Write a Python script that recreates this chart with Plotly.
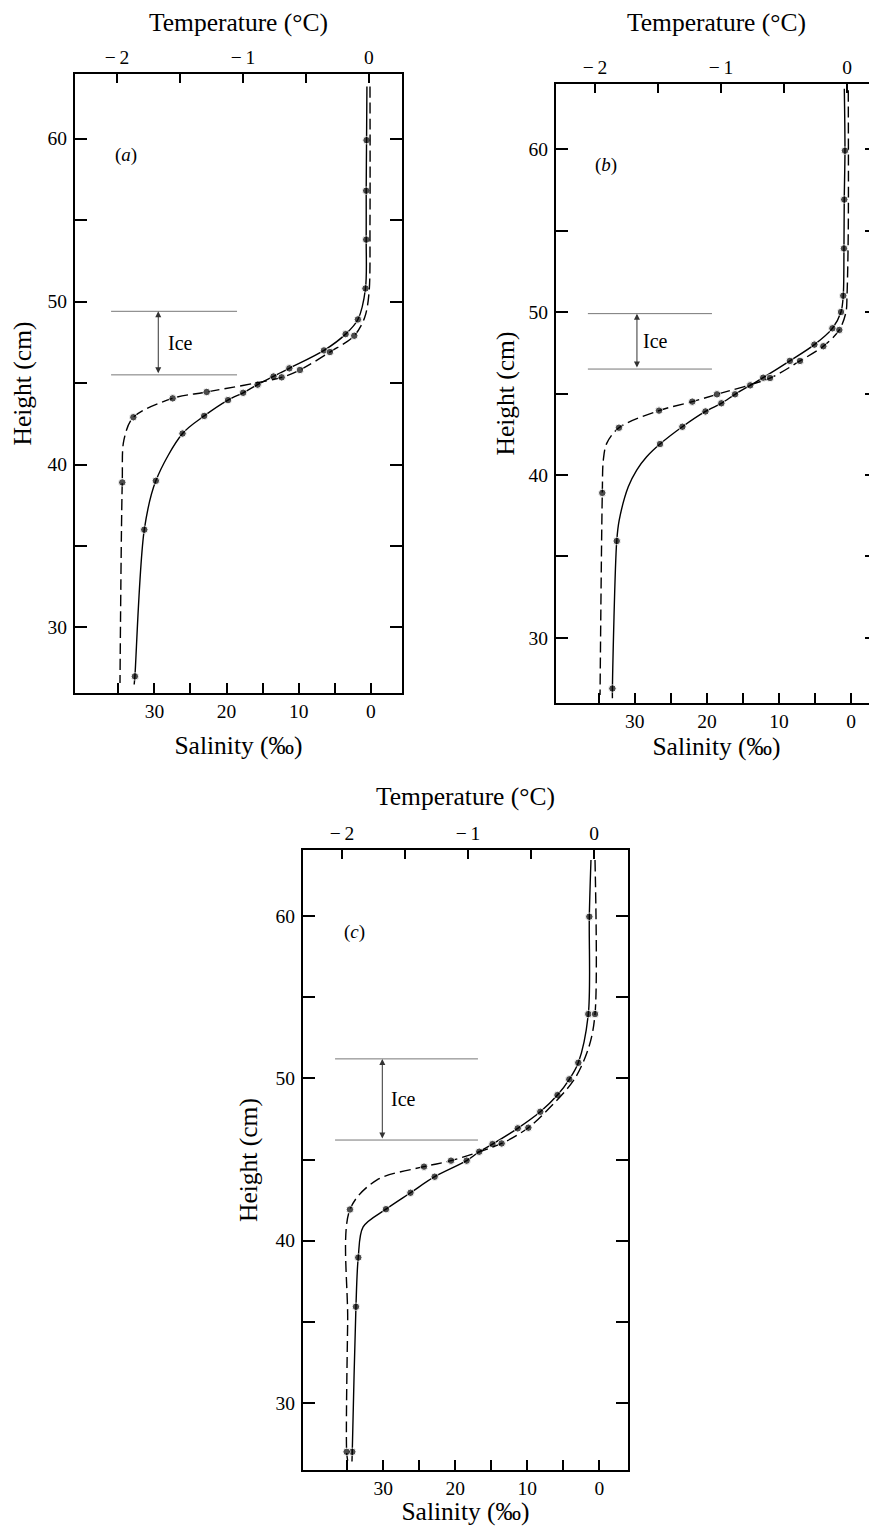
import plotly.graph_objects as go

# ---------------- data ----------------
# Panel (a): solid curve = salinity (bottom axis), dashed curve = temperature (top axis)
a_sal_S = [0.55, 0.6, 0.65, 0.65, 0.75, 1.8, 3.5, 6.5, 11.3, 13.5, 15.7, 17.7, 19.8, 23.1, 26.1, 29.8, 31.4, 32.7, 32.8]
a_sal_H = [63.2, 59.9, 56.8, 53.8, 50.8, 48.9, 48.0, 47.0, 45.9, 45.4, 44.9, 44.4, 43.95, 42.98, 41.9, 39.0, 36.0, 27.0, 26.5]
a_sal_dot = [0, 1, 1, 1, 1, 1, 1, 1, 1, 1, 1, 1, 1, 1, 1, 1, 1, 1, 0]
a_tmp_T = [0.008, 0.008, 0.0, -0.035, -0.117, -0.31, -0.548, -0.693, -1.288, -1.558, -1.87, -1.945, -1.958, -1.976]
a_tmp_H = [63.2, 55.0, 50.5, 49.0, 47.9, 46.9, 45.8, 45.35, 44.45, 44.06, 42.9, 41.5, 38.9, 26.6]
a_tmp_dot = [0, 0, 0, 0, 1, 1, 1, 1, 1, 1, 1, 0, 1, 0]

# Panel (b)
b_sal_S = [0.95, 0.86, 0.96, 1.0, 1.1, 1.41, 2.6, 5.1, 8.5, 12.2, 14.0, 16.1, 18.0, 20.2, 23.4, 26.5,
           28.35, 29.73, 30.9, 32.15, 32.5, 33.1, 33.1]
b_sal_H = [63.7, 59.9, 56.9, 53.9, 51.0, 50.0, 49.0, 48.0, 47.0, 45.97, 45.5, 44.95, 44.4, 43.9, 42.96, 41.9,
           41.12, 40.3, 39.28, 37.24, 35.95, 26.9, 26.3]
b_sal_dot = [0, 1, 1, 1, 1, 1, 1, 1, 1, 1, 1, 1, 1, 1, 1, 1, 0, 0, 0, 0, 1, 1, 0]
b_tmp_T = [0.01, 0.01, 0.0, -0.008, -0.061, -0.188, -0.373, -0.611, -1.032, -1.228, -1.492, -1.81, -1.907, -1.934, -1.942, -1.96]
b_tmp_H = [63.6, 55.0, 51.0, 50.0, 48.9, 47.9, 47.0, 45.95, 44.95, 44.5, 43.95, 42.9, 41.94, 40.92, 38.9, 26.5]
b_tmp_dot = [0, 0, 0, 0, 1, 1, 1, 1, 1, 1, 1, 1, 0, 0, 1, 0]

# Panel (c)
c_sal_S = [1.17, 1.40, 1.54, 2.93, 4.18, 5.82, 8.21, 11.34, 14.84, 16.69, 18.43, 22.87, 26.23, 29.63, 32.8, 33.48, 33.80, 34.31, 34.35]
c_sal_H = [63.45, 59.96, 53.96, 50.96, 49.94, 48.97, 47.94, 46.92, 45.95, 45.48, 44.93, 43.94, 42.95, 41.94, 40.85, 38.96, 35.93, 26.99, 26.4]
c_sal_dot = [0, 1, 1, 1, 1, 1, 1, 1, 1, 1, 1, 1, 1, 1, 0, 1, 1, 1, 0]
c_tmp_T = [0.008, 0.008, -0.04, -0.156, -0.383, -0.521, -0.733, -1.135, -1.349, -1.725, -1.937, -1.955, -1.963, -1.955]
c_tmp_H = [63.45, 53.96, 51.95, 49.94, 47.94, 46.96, 45.99, 44.93, 44.56, 43.73, 41.92, 35.0, 26.99, 26.45]
c_tmp_dot = [0, 1, 0, 0, 0, 1, 1, 1, 1, 0, 1, 0, 1, 0]

# Ice layer (cm)
ice_top = [49.4, 49.9, 51.2]
ice_bottom = [45.5, 46.5, 46.2]
panel_letters = ["a", "b", "c"]

# Tick labels
sal_tick_vals = [35, 30, 25, 20, 15, 10, 5, 0]
sal_tick_text = ["", "30", "", "20", "", "10", "", "0"]
tmp_tick_vals = [-2, -1.5, -1, -0.5, 0]
tmp_tick_text = ["\u2212\u20092", "", "\u2212\u20091", "", "0"]
h_tick_vals = [30, 35, 40, 45, 50, 55, 60]
h_tick_text = ["30", "", "40", "", "50", "", "60"]

# ---------------- layout ----------------
# The page body has an 8px margin, so the figure is sized to fit the 877x1534 window.
OFF = 8
W, HH = 877 - OFF, 1534 - 2 * OFF
FONT = "Liberation Serif, DejaVu Serif, Times New Roman, serif"


def fx(px):
    return min(1.0, (px - OFF) / W)


def fy(py):
    return 1 - (py - OFF) / HH


panels = [
    dict(xd=[fx(75), fx(402)], yd=[fy(693), fy(74)], sr=[41.0, -4.31], tr=[-2.333, 0.262], hr=[25.98, 63.96],
         ice_s=[36.0, 18.55], arrow_s=29.46, text_s=26.45, st_top=24, st_bot=15, st_y=10,
         sal=(a_sal_S, a_sal_H, a_sal_dot), tmp=(a_tmp_T, a_tmp_H, a_tmp_dot)),
    dict(xd=[fx(556), fx(880)], yd=[fy(703), fy(84)], sr=[40.92, -3.58], tr=[-2.3095, 0.238], hr=[26.01, 63.99],
         ice_s=[36.5, 19.3], arrow_s=29.7, text_s=27.1, st_top=28, st_bot=6, st_y=7,
         sal=(b_sal_S, b_sal_H, b_sal_dot), tmp=(b_tmp_T, b_tmp_H, b_tmp_dot)),
    dict(xd=[fx(303), fx(628)], yd=[fy(1470), fy(850)], sr=[41.15, -3.97], tr=[-2.3095, 0.2698], hr=[25.87, 64.07],
         ice_s=[36.7, 16.86], arrow_s=30.14, text_s=27.13, st_top=10, st_bot=9, st_y=11,
         sal=(c_sal_S, c_sal_H, c_sal_dot), tmp=(c_tmp_T, c_tmp_H, c_tmp_dot)),
]

fig = go.Figure()
layout = dict(width=W, height=HH, margin=dict(l=0, r=0, t=0, b=0),
              paper_bgcolor="white", plot_bgcolor="white", showlegend=False,
              font=dict(family=FONT, color="black", size=18))
shapes, annotations = [], []

title_font = dict(family=FONT, size=25.5, color="black")
tick_font = dict(family=FONT, size=19.5, color="black")

for i, p in enumerate(panels):
    xb = "x" if i == 0 else f"x{2 * i + 1}"
    xt = f"x{2 * i + 2}"
    yy = "y" if i == 0 else f"y{i + 1}"
    xb_key = "xaxis" if i == 0 else f"xaxis{2 * i + 1}"
    xt_key = f"xaxis{2 * i + 2}"
    y_key = "yaxis" if i == 0 else f"yaxis{i + 1}"

    S, Hs, ds = p["sal"]
    fig.add_trace(go.Scatter(
        x=S, y=Hs, xaxis=xb, yaxis=yy, mode="lines+markers",
        line=dict(color="black", width=1.4, shape="spline", smoothing=0.9),
        marker=dict(size=[7.5 if d else 0 for d in ds], color="black"),
        hoverinfo="skip"))
    T, Ht, dt = p["tmp"]
    fig.add_trace(go.Scatter(
        x=T, y=Ht, xaxis=xt, yaxis=yy, mode="lines+markers",
        line=dict(color="black", width=1.4, dash="11px,5px", shape="spline", smoothing=0.9),
        marker=dict(size=[7.5 if d else 0 for d in dt], color="black"),
        hoverinfo="skip"))

    common = dict(showline=True, linecolor="black", linewidth=2, showgrid=False, zeroline=False,
                  ticks="inside", tickcolor="black", tickwidth=1.5, tickfont=tick_font,
                  automargin=False, fixedrange=True)
    layout[xb_key] = dict(common, domain=p["xd"], range=p["sr"], anchor=yy, side="bottom",
                          tickmode="array", tickvals=sal_tick_vals, ticktext=sal_tick_text, ticklen=10,
                          title=dict(text="Salinity (\u2030)", font=title_font, standoff=p["st_bot"]))
    layout[xt_key] = dict(common, domain=p["xd"], range=p["tr"], anchor=yy, side="top", overlaying=xb,
                          tickmode="array", tickvals=tmp_tick_vals, ticktext=tmp_tick_text, ticklen=9,
                          title=dict(text="Temperature (\u00b0C)", font=title_font, standoff=p["st_top"]))
    layout[y_key] = dict(common, domain=p["yd"], range=p["hr"], anchor=xb, side="left", mirror="ticks",
                         tickmode="array", tickvals=h_tick_vals, ticktext=h_tick_text, ticklen=12,
                         ticklabelstandoff=2,
                         title=dict(text="Height (cm)", font=title_font, standoff=p["st_y"]))

    # Ice layer markers
    for h in (ice_top[i], ice_bottom[i]):
        shapes.append(dict(type="line", xref=xb, yref=yy, x0=p["ice_s"][0], x1=p["ice_s"][1], y0=h, y1=h,
                           line=dict(color="#777777", width=1)))
    annotations.append(dict(xref=xb, yref=yy, x=p["arrow_s"], y=ice_top[i], axref=xb, ayref=yy,
                            ax=p["arrow_s"], ay=ice_bottom[i], text="", showarrow=True,
                            arrowside="end+start", arrowhead=2, arrowsize=1.2, arrowwidth=1,
                            arrowcolor="#333333", standoff=0, startstandoff=0))
    annotations.append(dict(xref=xb, yref=yy, x=p["text_s"], y=(ice_top[i] + ice_bottom[i]) / 2,
                            text="Ice", showarrow=False, font=dict(family=FONT, size=20, color="black")))
    annotations.append(dict(xref=xb, yref=yy, x=34.0, y=59.0, text=f"(<i>{panel_letters[i]}</i>)",
                            showarrow=False, font=dict(family=FONT, size=19, color="black")))

layout["shapes"] = shapes
layout["annotations"] = annotations
fig.update_layout(**layout)
fig.write_html("out.html")
